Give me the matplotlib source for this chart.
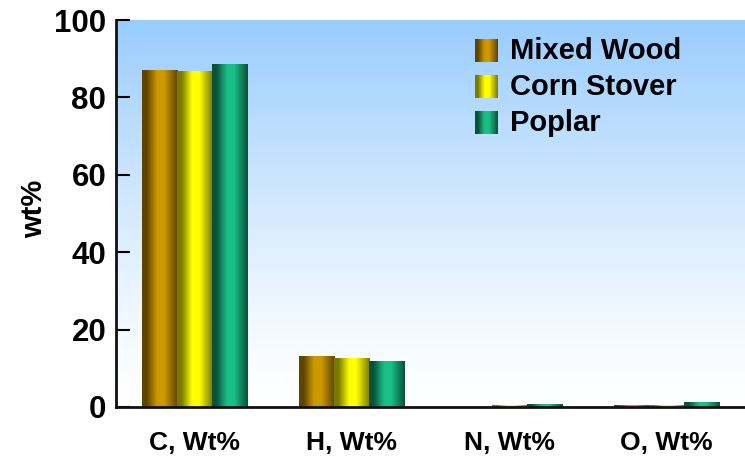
import numpy as np
import matplotlib.pyplot as plt
from matplotlib.colors import LinearSegmentedColormap

plt.rcParams['font.family'] = ['Liberation Sans', 'DejaVu Sans']
plt.rcParams['font.weight'] = 'bold'

categories = ['C, Wt%', 'H, Wt%', 'N, Wt%', 'O, Wt%']
series = ['Mixed Wood', 'Corn Stover', 'Poplar']
mixed_wood = [87.0, 13.2, 0.05, 0.6]
corn_stover = [86.8, 12.6, 0.6, 0.6]
poplar = [88.6, 12.0, 0.7, 1.2]
yticks = [0, 20, 40, 60, 80, 100]

# dark edge / bright middle for the cylinder look
shades = {
    'Mixed Wood': ('#5e4400', '#cc9900'),
    'Corn Stover': ('#7a7a00', '#ffff00'),
    'Poplar': ('#0a5238', '#1abf88'),
}


def tube_cmap(dark, light):
    return LinearSegmentedColormap.from_list(
        'tube', [(0, dark), (0.12, dark), (0.42, light), (0.62, light), (1.0, dark)])


fig = plt.figure(figsize=(7.45, 4.57), dpi=100)
ax = fig.add_axes([116 / 745, 1 - 407 / 457, 629 / 745, 387 / 457])

# sky-blue to white background
grad = np.linspace(1, 0, 256).reshape(-1, 1) ** 1.3
bg = LinearSegmentedColormap.from_list('bg', ['#ffffff', '#99ccff'])
ax.imshow(grad, cmap=bg, aspect='auto', extent=[0, 1, 0, 1],
          transform=ax.transAxes, zorder=0)

x = np.arange(len(categories))
width = 0.223
h = np.linspace(0, 1, 64).reshape(1, -1)
for i, (name, vals) in enumerate(zip(series, [mixed_wood, corn_stover, poplar])):
    cmap = tube_cmap(*shades[name])
    bars = ax.bar(x + (i - 1) * width, vals, width, color='none', zorder=2)
    for b in bars:
        im = ax.imshow(h, cmap=cmap, aspect='auto', zorder=2,
                       extent=[b.get_x(), b.get_x() + b.get_width(), 0, b.get_height()])
        im.set_clip_path(b)

    # legend entry
    ly = 0.921 - i * 0.093
    ax.imshow(h, cmap=cmap, aspect='auto', transform=ax.transAxes, zorder=3,
              extent=[0.571, 0.606, ly - 0.0285, ly + 0.0285])
    ax.text(0.626, ly, name, transform=ax.transAxes, fontsize=21,
            fontweight='bold', va='center', ha='left', zorder=3)

ax.set_xlim(-0.5, 3.5)
ax.set_ylim(0, 100)
ax.set_yticks(yticks)
ax.set_yticklabels([str(t) for t in yticks], fontsize=22.5, fontweight='bold')
ax.set_xticks(x)
ax.set_xticklabels(categories, fontsize=19, fontweight='bold')
ax.tick_params(axis='y', direction='in', length=10, width=1.5, pad=7)
ax.tick_params(axis='x', length=0, pad=17)
ax.set_ylabel('wt%', fontsize=21, fontweight='bold')
ax.yaxis.set_label_coords(-0.108, 0.512)

for s in ['top', 'right']:
    ax.spines[s].set_visible(False)
for s in ['left', 'bottom']:
    ax.spines[s].set_linewidth(2)
    ax.spines[s].set_color('#111111')
    ax.spines[s].set_zorder(4)

fig.savefig('out.png', dpi=100)
